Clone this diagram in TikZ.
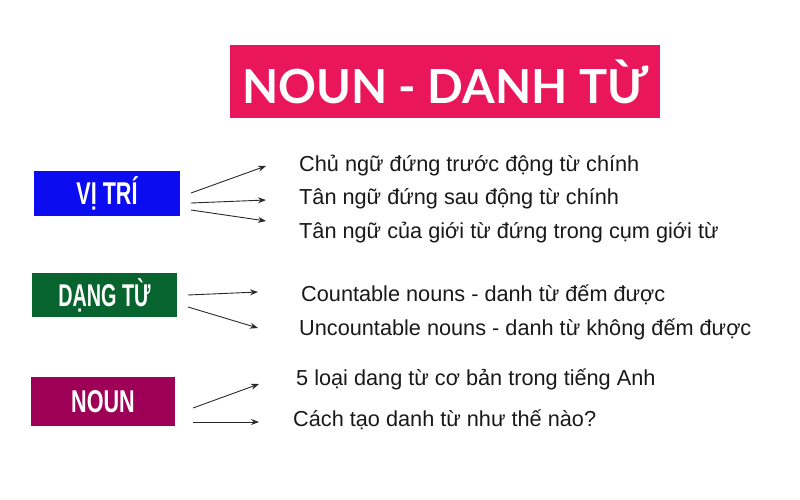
\documentclass[tikz,border=0pt]{standalone}
\usepackage{fontspec}
\setmainfont{Liberation Sans}
\newfontfamily\titlefont{Lato}
\usetikzlibrary{arrows.meta}
\definecolor{titlered}{RGB}{234,22,92}
\definecolor{boxblue}{RGB}{12,12,240}
\definecolor{boxgreen}{RGB}{8,100,46}
\definecolor{boxpurple}{RGB}{158,0,88}
\definecolor{arrowgray}{RGB}{40,40,40}
\tikzset{
  catbox/.style={inner sep=0pt, text=white, font=\bfseries\fontsize{30}{30}\selectfont},
  itemtext/.style={inner sep=0pt, anchor=base west, text=black!90, font=\fontsize{21.7}{23}\selectfont},
  conn/.style={draw=arrowgray, line width=0.9pt, -{Stealth[length=8pt,width=6pt]}}
}
\begin{document}
\begin{tikzpicture}[x=1pt,y=-1pt]
\useasboundingbox (0,0) rectangle (800,500);
% title
\node[fill=titlered, minimum width=430pt, minimum height=73pt, inner sep=0pt] (title) at (445,81.5)
  {\titlefont\bfseries\color{white}\fontsize{47}{47}\selectfont NOUN - DANH TỪ};
% category boxes
\node[catbox, fill=boxblue, minimum width=146pt, minimum height=45pt] (vitri) at (107,193.5) {\scalebox{0.72}[1.05]{VỊ TRÍ}};
\node[catbox, fill=boxgreen, minimum width=145pt, minimum height=44pt] (dang) at (104.5,295) {\scalebox{0.66}[1.05]{DẠNG TỪ}};
\node[catbox, fill=boxpurple, minimum width=144pt, minimum height=49pt] (noun) at (103,401.5) {\scalebox{0.72}[1.05]{NOUN}};
% item texts
\node[itemtext] (t1) at (299,171) {Chủ ngữ đứng trước động từ chính};
\node[itemtext] (t2) at (299,204) {Tân ngữ đứng sau động từ chính};
\node[itemtext] (t3) at (299,238) {Tân ngữ của giới từ đứng trong cụm giới từ};
\node[itemtext] (t4) at (301,301) {Countable nouns - danh từ đếm được};
\node[itemtext] (t5) at (299,335) {Uncountable nouns - danh từ không đếm được};
\node[itemtext] (t6) at (296,385) {5 loại dang từ cơ bản trong tiếng Anh};
\node[itemtext] (t7) at (293,426) {Cách tạo danh từ như thế nào?};
% connector ends
\coordinate (a1s) at (191,193); \coordinate (a1e) at (266,166);
\coordinate (a2s) at (191,203); \coordinate (a2e) at (266,200);
\coordinate (a3s) at (191,210); \coordinate (a3e) at (266,221);
\coordinate (b1s) at (188,295); \coordinate (b1e) at (258,292);
\coordinate (b2s) at (188,307); \coordinate (b2e) at (258,328);
\coordinate (c1s) at (193,408); \coordinate (c1e) at (259,384);
\coordinate (c2s) at (193,422); \coordinate (c2e) at (259,422);
\draw[conn] (a1s) -- (a1e);
\draw[conn] (a2s) -- (a2e);
\draw[conn] (a3s) -- (a3e);
\draw[conn] (b1s) -- (b1e);
\draw[conn] (b2s) -- (b2e);
\draw[conn] (c1s) -- (c1e);
\draw[conn] (c2s) -- (c2e);
\end{tikzpicture}
\end{document}
